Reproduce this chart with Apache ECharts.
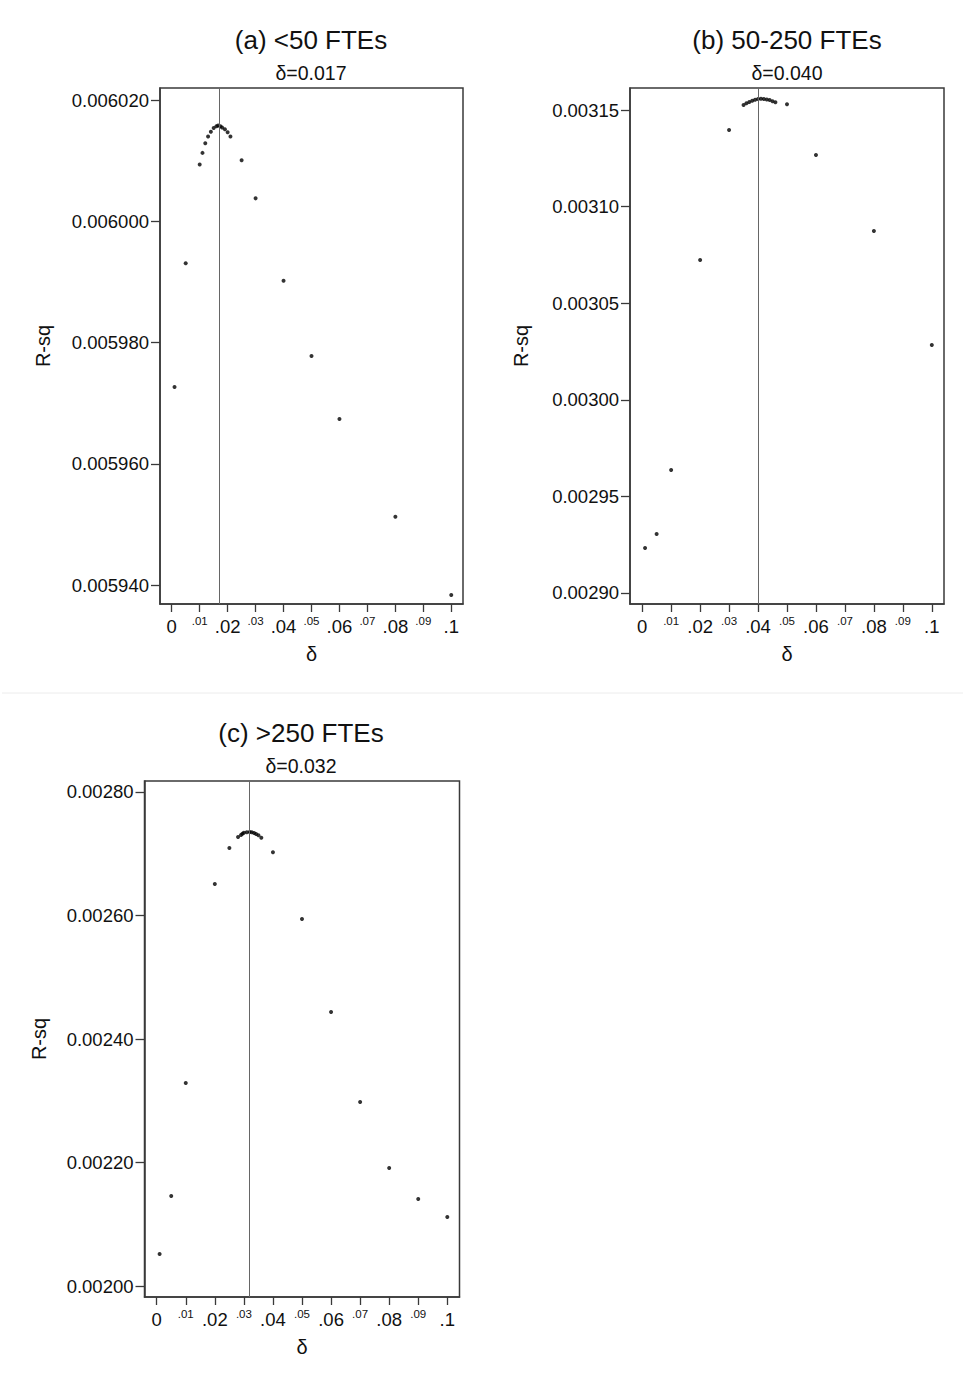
<!DOCTYPE html>
<html>
<head>
<meta charset="utf-8">
<script src="https://cdn.jsdelivr.net/npm/echarts@6/dist/echarts.min.js"></script>
<style>
html,body{margin:0;padding:0;background:#fff;}
#c{width:965px;height:1384px;}
</style>
</head>
<body>
<div id="c"></div>
<script>
// ---- data ----
const titles = ['(a) <50 FTEs', '(b) 50-250 FTEs', '(c) >250 FTEs'];
const subtitles = ['δ=0.017', 'δ=0.040', 'δ=0.032'];
const optDelta = [0.017, 0.040, 0.032];

const deltaA = [0.001, 0.005, 0.010, 0.011, 0.012, 0.013, 0.014, 0.015, 0.016, 0.0166, 0.0174, 0.018, 0.019, 0.020, 0.021, 0.025, 0.030, 0.040, 0.050, 0.060, 0.080, 0.100];
const rsqA = [0.0059727, 0.0059931, 0.0060094, 0.0060113, 0.0060129, 0.0060140, 0.0060148, 0.0060154, 0.0060157, 0.0060158, 0.0060157, 0.0060155, 0.0060152, 0.0060147, 0.0060140, 0.0060101, 0.0060038, 0.0059902, 0.0059778, 0.0059674, 0.0059513, 0.0059384];

const deltaB = [0.001, 0.005, 0.010, 0.020, 0.030, 0.035, 0.036, 0.037, 0.038, 0.039, 0.040, 0.041, 0.042, 0.043, 0.044, 0.045, 0.046, 0.050, 0.060, 0.080, 0.100];
const rsqB = [0.0029233, 0.0029305, 0.0029637, 0.0030724, 0.0031397, 0.0031526, 0.0031535, 0.0031541, 0.0031548, 0.0031553, 0.0031557, 0.0031558, 0.0031557, 0.0031555, 0.0031552, 0.0031545, 0.0031540, 0.0031530, 0.0031267, 0.0030874, 0.0030284];

const deltaC = [0.001, 0.005, 0.010, 0.020, 0.025, 0.028, 0.029, 0.0295, 0.030, 0.031, 0.032, 0.0327, 0.0335, 0.0342, 0.035, 0.036, 0.040, 0.050, 0.060, 0.070, 0.080, 0.090, 0.100];
const rsqC = [0.0020518, 0.0021457, 0.0023287, 0.0026510, 0.0027093, 0.0027271, 0.0027304, 0.0027325, 0.0027341, 0.0027347, 0.0027352, 0.0027347, 0.0027336, 0.0027320, 0.0027299, 0.0027260, 0.0027023, 0.0025943, 0.0024437, 0.0022980, 0.0021910, 0.0021409, 0.0021117];

const xTicks = [0, 0.01, 0.02, 0.03, 0.04, 0.05, 0.06, 0.07, 0.08, 0.09, 0.1];
const yTicksA = [0.00594, 0.00596, 0.00598, 0.00600, 0.00602];
const yTicksB = [0.00290, 0.00295, 0.00300, 0.00305, 0.00310, 0.00315];
const yTicksC = [0.00200, 0.00220, 0.00240, 0.00260, 0.00280];
const yDecimals = [6, 5, 5];

// ---- layout ----
const FONT = 'Arial, "Liberation Sans", sans-serif';
const grids = [
  {left: 160, top: 88, width: 303, height: 516},
  {left: 630, top: 88, width: 314, height: 516},
  {left: 144.5, top: 781, width: 315, height: 516}
];
const yRanges = [[0.0059369, 0.0060220], [0.0028943, 0.0031614], [0.0019822, 0.0028178]];
const xRange = [-0.0042, 0.1042];
const nameGaps = [107, 99, 96];
const deltas = [deltaA, deltaB, deltaC];
const rsqs = [rsqA, rsqB, rsqC];
const yTicks = [yTicksA, yTicksB, yTicksC];

function fmtX(v) {
  if (Math.abs(v) < 1e-12) return '0';
  let s = (+v.toFixed(2)).toString();
  return s.replace(/^0\./, '.');
}
function isMinor(v) {
  return Math.round(v * 100) % 2 === 1;
}

const option = {
  animation: false,
  backgroundColor: '#fff',
  textStyle: {fontFamily: FONT},
  grid: grids.map(g => Object.assign({show: true, borderColor: '#3a3a3a', borderWidth: 1.5, backgroundColor: '#fff', containLabel: false}, g)),
  xAxis: grids.map((g, i) => ({
    type: 'value', gridIndex: i, min: xRange[0], max: xRange[1], position: 'bottom',
    name: 'δ', nameLocation: 'middle', nameGap: 40,
    nameTextStyle: {fontSize: 20, color: '#111', fontFamily: FONT},
    axisLine: {show: true, onZero: false, lineStyle: {color: '#3a3a3a', width: 1.5}},
    splitLine: {show: false},
    axisTick: {show: true, inside: false, length: 8, customValues: xTicks, lineStyle: {color: '#3a3a3a', width: 1.3}},
    axisLabel: {
      customValues: xTicks, margin: 11, color: '#111',
      formatter: v => isMinor(v) ? '{s|' + fmtX(v) + '}' : '{b|' + fmtX(v) + '}',
      rich: {
        b: {fontSize: 18.5, lineHeight: 22, fontFamily: FONT, color: '#111'},
        s: {fontSize: 11.5, lineHeight: 12, fontFamily: FONT, color: '#111'}
      }
    }
  })),
  yAxis: grids.map((g, i) => ({
    type: 'value', gridIndex: i, min: yRanges[i][0], max: yRanges[i][1], position: 'left',
    name: 'R-sq', nameLocation: 'middle', nameGap: nameGaps[i],
    nameTextStyle: {fontSize: 20, color: '#111', fontFamily: FONT},
    axisLine: {show: true, onZero: false, lineStyle: {color: '#3a3a3a', width: 1.5}},
    splitLine: {show: false},
    axisTick: {show: true, inside: false, length: 9, customValues: yTicks[i], lineStyle: {color: '#3a3a3a', width: 1.3}},
    axisLabel: {
      customValues: yTicks[i], margin: 11, fontSize: 18.5, color: '#111', fontFamily: FONT,
      formatter: v => v.toFixed(yDecimals[i])
    }
  })),
  series: grids.map((g, i) => ({
    type: 'scatter', xAxisIndex: i, yAxisIndex: i,
    data: deltas[i].map((d, k) => [d, rsqs[i][k]]),
    symbol: 'circle', symbolSize: 4,
    itemStyle: {color: '#000'},
    markLine: {
      silent: true, symbol: ['none', 'none'], label: {show: false}, precision: 6,
      lineStyle: {color: '#666', width: 1, type: 'solid'},
      data: [{xAxis: optDelta[i]}]
    }
  })),
  graphic: [
    {type: 'line', shape: {x1: 2, y1: 693, x2: 963, y2: 693}, style: {stroke: '#ececec', lineWidth: 1}},
    {type: 'text', x: 311, y: 40, style: {text: titles[0], font: '26px ' + FONT, fill: '#111', textAlign: 'center', textVerticalAlign: 'middle'}},
    {type: 'text', x: 787, y: 40, style: {text: titles[1], font: '26px ' + FONT, fill: '#111', textAlign: 'center', textVerticalAlign: 'middle'}},
    {type: 'text', x: 301, y: 733, style: {text: titles[2], font: '26px ' + FONT, fill: '#111', textAlign: 'center', textVerticalAlign: 'middle'}},
    {type: 'text', x: 311, y: 73, style: {text: subtitles[0], font: '19.5px ' + FONT, fill: '#111', textAlign: 'center', textVerticalAlign: 'middle'}},
    {type: 'text', x: 787, y: 73, style: {text: subtitles[1], font: '19.5px ' + FONT, fill: '#111', textAlign: 'center', textVerticalAlign: 'middle'}},
    {type: 'text', x: 301, y: 766, style: {text: subtitles[2], font: '19.5px ' + FONT, fill: '#111', textAlign: 'center', textVerticalAlign: 'middle'}}
  ]
};

const chart = echarts.init(document.getElementById('c'), null, {renderer: 'svg', width: 965, height: 1384});
chart.setOption(option);
</script>
</body>
</html>
